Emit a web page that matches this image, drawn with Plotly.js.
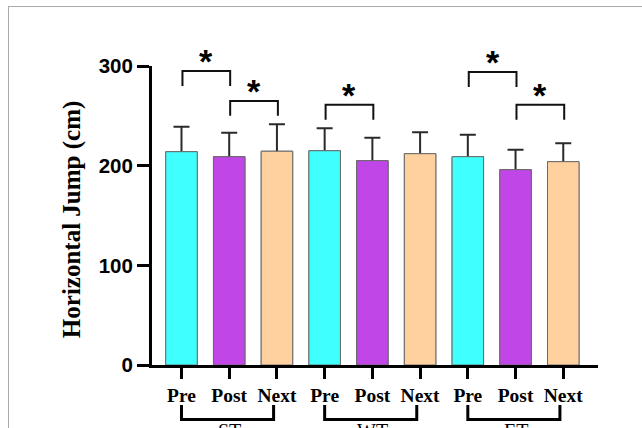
<!DOCTYPE html>
<html>
<head>
<meta charset="utf-8">
<script src="https://cdn.plot.ly/plotly-3.0.1.min.js"></script>
<style>
  html, body { margin: 0; padding: 0; background: #fff; }
  #frame { position: absolute; left: 8px; top: 6px; width: 700px; height: 500px;
           border-top: 1.5px solid #aaa; border-left: 1.5px solid #aaa; }
  #chart { position: absolute; left: 0; top: 0; width: 642px; height: 428px; }
</style>
</head>
<body>
<div id="frame"></div>
<div id="chart"></div>
<script>
// ---- data ----
const categories = ['Pre', 'Post', 'Next', 'Pre', 'Post', 'Next', 'Pre', 'Post', 'Next'];
const groups = ['ST', 'WT', 'ET'];
const groupStart = [0, 3, 6];
const groupEnd = [2, 5, 8];
const means = [214, 209, 214.5, 215, 205, 212, 209, 196, 204];
const sds = [25, 24, 27, 22.5, 23, 21.5, 22, 20, 18.5];
const barColors = ['#40FFFF', '#C146E8', '#FFD19F', '#40FFFF', '#C146E8', '#FFD19F', '#40FFFF', '#C146E8', '#FFD19F'];
const yTicks = [0, 100, 200, 300];
const yTitle = 'Horizontal Jump (cm)';
// significance comparisons: pairs of bar indices, bracket level (cm), label
const sigLeft = [0, 1, 3, 6, 7];
const sigRight = [1, 2, 4, 7, 8];
const sigLevel = [295, 265, 261, 294, 261];
const sigLabel = ['*', '*', '*', '*', '*'];

// ---- build ----
const xIdx = categories.map((_, i) => i);
const yMax = 300;
const barW = 0.66;

const traces = [
  {
    type: 'bar', x: xIdx, y: means, width: barW,
    marker: { color: barColors, line: { color: '#6a6a6a', width: 1 } },
    error_y: { type: 'data', array: sds, symmetric: true, color: '#2a2a2a', thickness: 2, width: 8 },
    showlegend: false, hoverinfo: 'skip'
  },
  {
    type: 'bar', x: xIdx, y: means, width: barW,
    marker: { color: barColors, line: { color: '#6a6a6a', width: 1 } },
    showlegend: false, hoverinfo: 'skip'
  }
];

const shapes = [];
const annotations = [];
const drop = 15;
for (let k = 0; k < sigLeft.length; k++) {
  const a = sigLeft[k] + 0.02, b = sigRight[k] + 0.02;
  const hi = sigLevel[k] / yMax, lo = (sigLevel[k] - drop) / yMax;
  shapes.push({
    type: 'path', xref: 'x', yref: 'paper',
    path: `M${a},${lo} L${a},${hi} L${b},${hi} L${b},${lo}`,
    line: { color: '#111', width: 2 }
  });
  annotations.push({
    xref: 'x', yref: 'paper', x: (sigLeft[k] + sigRight[k]) / 2 + 0.02, y: (sigLevel[k] + 19) / yMax,
    text: sigLabel[k], showarrow: false, xanchor: 'center', yanchor: 'middle',
    font: { family: 'Liberation Sans, Arial', size: 34, color: '#000', weight: 'bold' }, yshift: -9
  });
}
for (let g = 0; g < groups.length; g++) {
  const a = groupStart[g], b = groupEnd[g] - 0.07;
  shapes.push({
    type: 'path', xref: 'x', yref: 'paper',
    path: `M${a},-0.134 L${a},-0.182 L${b},-0.182 L${b},-0.134`,
    line: { color: '#000', width: 3 }
  });
  annotations.push({
    xref: 'x', yref: 'paper', x: (groupStart[g] + groupEnd[g]) / 2, y: -0.177,
    text: groups[g], showarrow: false, xanchor: 'center', yanchor: 'top',
    font: { family: 'Liberation Serif, Times New Roman', size: 20, color: '#000' }
  });
}
annotations.push({
  xref: 'paper', yref: 'paper', x: -0.179, y: 0.485, text: yTitle, textangle: -90,
  showarrow: false, xanchor: 'center', yanchor: 'middle',
  font: { family: 'Liberation Serif, Times New Roman', size: 25, color: '#000', weight: 'bold' }
});

const layout = {
  width: 642, height: 428,
  margin: { l: 152, r: 44, t: 66, b: 63 },
  paper_bgcolor: 'rgba(0,0,0,0)', plot_bgcolor: 'rgba(0,0,0,0)',
  barmode: 'overlay',
  showlegend: false,
  xaxis: {
    range: [-0.618, 8.728], tickvals: xIdx, ticktext: categories,
    showline: true, linewidth: 3, linecolor: '#000',
    ticks: 'outside', ticklen: 11, tickwidth: 3, tickcolor: '#000',
    showgrid: false, zeroline: false, fixedrange: true,
    tickfont: { family: 'Liberation Serif, Times New Roman', size: 19.5, color: '#000', weight: 'bold' }
  },
  yaxis: {
    range: [0, yMax], tickvals: yTicks, ticktext: yTicks.map(String),
    showline: true, linewidth: 3, linecolor: '#000',
    ticks: 'outside', ticklen: 12, tickwidth: 3, tickcolor: '#000',
    showgrid: false, zeroline: false, fixedrange: true,
    tickfont: { family: 'Liberation Sans, Arial', size: 20.5, color: '#000', weight: 'bold' }
  },
  shapes: shapes,
  annotations: annotations
};

Plotly.newPlot('chart', traces, layout, { displayModeBar: false, staticPlot: true });
</script>
</body>
</html>
